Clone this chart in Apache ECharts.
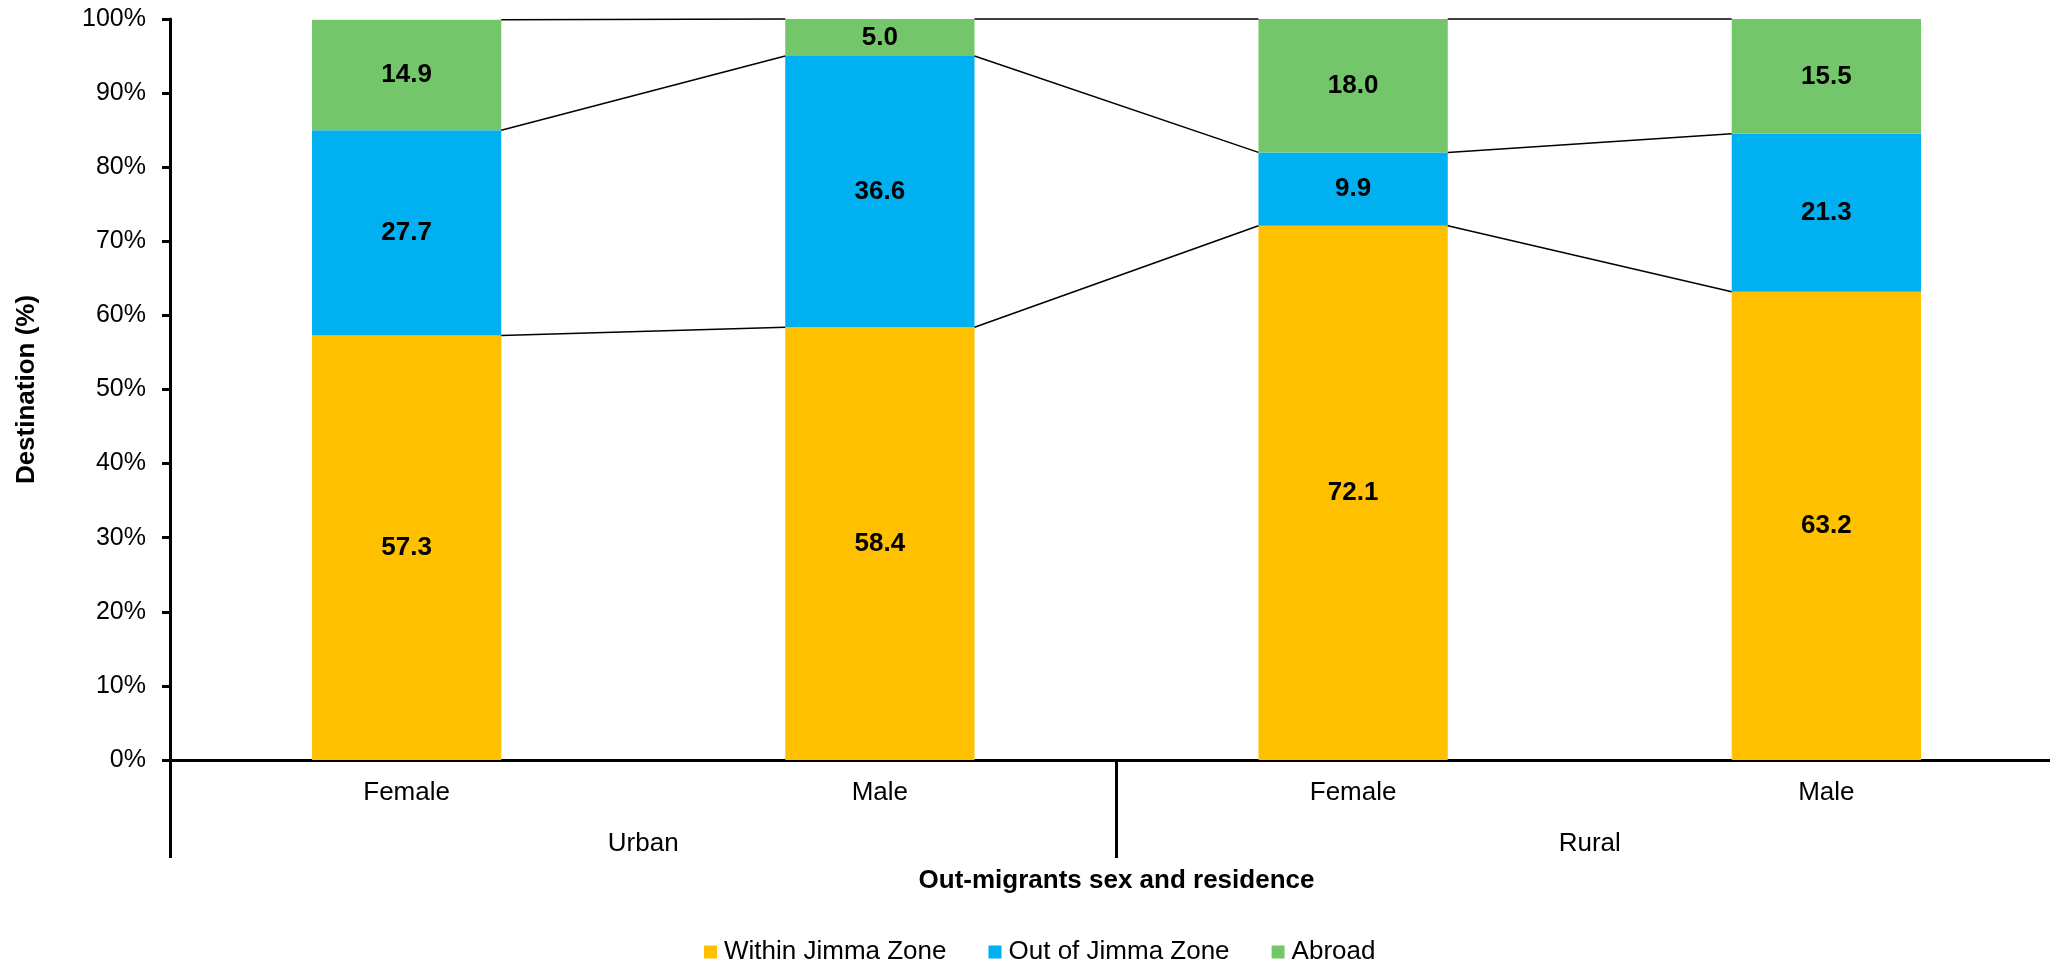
<!DOCTYPE html>
<html>
<head>
<meta charset="utf-8">
<title>Destination of out-migrants</title>
<script src="https://cdn.jsdelivr.net/npm/echarts@6/dist/echarts.min.js"></script>
<style>
  html, body { margin: 0; padding: 0; background: #fff; }
  #chart { width: 2050px; height: 963px; }
</style>
</head>
<body>
<div id="chart"></div>
<script>
// Categories: sex within residence group
const categories = ['Female', 'Male', 'Female', 'Male'];
const groups = ['Urban', 'Rural'];

// Destination shares (%)
const withinJimma = [57.3, 58.4, 72.1, 63.2];
const outOfJimma = [27.7, 36.6, 9.9, 21.3];
const abroad = [14.9, 5.0, 18.0, 15.5];

const seriesNames = ['Within Jimma Zone', 'Out of Jimma Zone', 'Abroad'];
const seriesColors = ['#FFC000', '#00B0F0', '#73C66A'];

const FONT = "'Liberation Sans', Arial, sans-serif";

// Cumulative tops of each stack segment, used for the connecting series lines
const layers = [withinJimma, outOfJimma, abroad];
const cumulative = [];
let running = categories.map(() => 0);
layers.forEach(layer => {
  running = running.map((v, i) => v + layer[i]);
  cumulative.push(running.slice());
});
const seriesLineData = [];
cumulative.forEach(cum => {
  for (let i = 0; i < categories.length - 1; i++) {
    seriesLineData.push([i, cum[i], cum[i + 1]]);
  }
});

const BAR_FRACTION = 0.4;

const chart = echarts.init(document.getElementById('chart'), null, { renderer: 'canvas' });

const barSeries = layers.map((data, k) => ({
  name: seriesNames[k],
  type: 'bar',
  stack: 'total',
  data: data,
  barWidth: (BAR_FRACTION * 100) + '%',
  itemStyle: { color: seriesColors[k] },
  label: {
    show: true,
    position: 'inside',
    formatter: p => Number(p.value).toFixed(1),
    color: '#000',
    fontFamily: FONT,
    fontWeight: 'bold',
    fontSize: 26
  },
  emphasis: { disabled: true }
}));

chart.setOption({
  animation: false,
  backgroundColor: '#fff',
  textStyle: { fontFamily: FONT },
  // The category axis runs slightly past the right edge of the canvas
  grid: { left: 170, top: 19, width: 1893, height: 741, containLabel: false, outerBoundsMode: 'none' },
  legend: {
    data: seriesNames,
    left: 699,
    top: 934,
    itemWidth: 13,
    itemHeight: 13,
    itemGap: 42,
    icon: 'rect',
    textStyle: { fontFamily: FONT, fontSize: 26, color: '#000', padding: [0, 0, 0, 2] }
  },
  xAxis: [
    {
      type: 'category',
      data: categories,
      position: 'bottom',
      axisLine: { show: true, lineStyle: { color: '#000', width: 3 } },
      axisTick: { show: false },
      axisLabel: { color: '#000', fontFamily: FONT, fontSize: 26, margin: 20, interval: 0 },
      name: 'Out-migrants sex and residence',
      nameLocation: 'middle',
      nameGap: 108,
      nameTextStyle: { color: '#000', fontFamily: FONT, fontSize: 26, fontWeight: 'bold' }
    },
    {
      type: 'category',
      data: groups,
      position: 'bottom',
      offset: 0,
      axisLine: { show: false },
      axisTick: { show: true, length: 98, alignWithLabel: false, interval: 0,
                  lineStyle: { color: '#000', width: 3 } },
      axisLabel: { color: '#000', fontFamily: FONT, fontSize: 26, margin: 71, interval: 0 }
    }
  ],
  yAxis: {
    type: 'value',
    min: 0,
    max: 100,
    interval: 10,
    axisLine: { show: true, lineStyle: { color: '#000', width: 3 } },
    axisTick: { show: true, length: 8, lineStyle: { color: '#000', width: 3 } },
    splitLine: { show: false },
    axisLabel: { formatter: '{value}%', color: '#000', fontFamily: FONT, fontSize: 25, margin: 24 },
    name: 'Destination (%)',
    nameLocation: 'middle',
    nameGap: 130,
    nameRotate: 90,
    nameTextStyle: { color: '#000', fontFamily: FONT, fontSize: 26, fontWeight: 'bold' }
  },
  series: barSeries.concat([{
    type: 'custom',
    name: 'series lines',
    xAxisIndex: 0,
    yAxisIndex: 0,
    data: seriesLineData,
    encode: { x: 0, y: [1, 2] },
    silent: true,
    z: 5,
    renderItem: function (params, api) {
      const i = api.value(0);
      const a = api.value(1);
      const b = api.value(2);
      const p1 = api.coord([i, a]);
      const p2 = api.coord([i + 1, b]);
      const half = api.size([1, 0])[0] * BAR_FRACTION / 2;
      return {
        type: 'line',
        shape: { x1: p1[0] + half, y1: p1[1], x2: p2[0] - half, y2: p2[1] },
        style: { stroke: '#000', lineWidth: 1.5 }
      };
    }
  }])
});
</script>
</body>
</html>
